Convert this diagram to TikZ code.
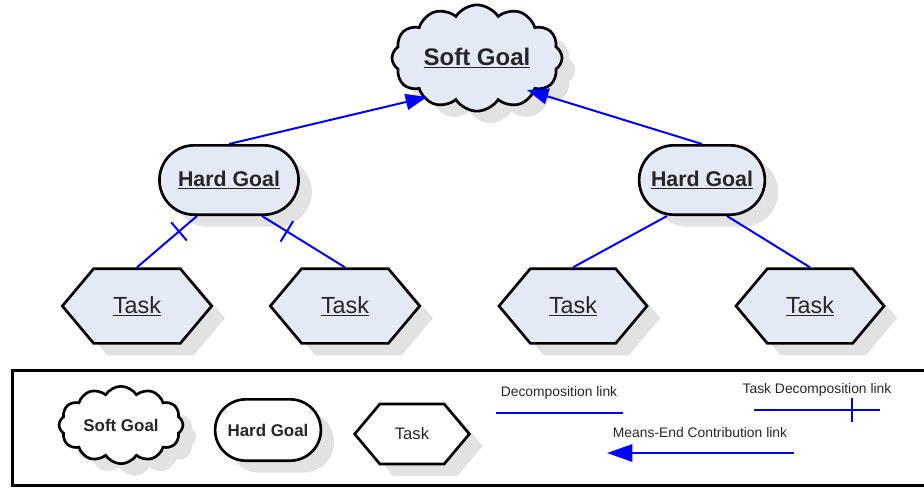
\documentclass[tikz,border=0pt]{standalone}
\usepackage{fontspec}
\setmainfont{Liberation Sans}
\usetikzlibrary{shapes.symbols,shapes.misc,shadows,arrows.meta,calc,decorations.markings}
\definecolor{goalfill}{RGB}{227,233,245}
\definecolor{linkblue}{RGB}{0,0,255}
\definecolor{shadowgray}{RGB}{226,226,226}
\begin{document}
\begin{tikzpicture}[x=0.75pt,y=-0.75pt,
  every node/.style={text=black!85},
  shade/.style={drop shadow={shadow xshift=10pt,shadow yshift=-9pt,fill=shadowgray,opacity=1}},
  softgoal/.style={cloud,cloud puffs=12,cloud puff arc=115,aspect=1.9,draw,line width=2pt,fill=goalfill,shade},
  hardgoal/.style={rounded rectangle,draw,line width=2pt,fill=goalfill,shade},
  task/.style={signal,signal to=west and east,signal pointer angle=100,draw,line width=2pt,fill=goalfill,shade},
  dlink/.style={draw=linkblue,line width=1.5pt},
  tdlink/.style={dlink,postaction={decorate},decoration={markings,
    mark=at position #1 with {\draw[linkblue,line width=1.5pt] (0,-9pt) -- (0,9pt);}}},
  tdlink/.default=0.3,
  melink/.style={dlink,-{Triangle[length=16pt,width=12pt]}},
  linktext/.style={font=\fontsize{10.4}{12}\selectfont}
]
  \useasboundingbox (0,0) rectangle (924,487);
  % soft goal on top
  \node[softgoal,minimum width=111pt,minimum height=61pt,font=\fontsize{18}{20}\selectfont\bfseries] (sg) at (477,58) {\underline{Soft Goal}};
  % hard goals
  \node[hardgoal,minimum width=111pt,minimum height=52pt,font=\fontsize{16}{18}\selectfont\bfseries] (hgL) at (229,180) {\underline{Hard Goal}};
  \node[hardgoal,minimum width=101pt,minimum height=52pt,font=\fontsize{16}{18}\selectfont\bfseries] (hgR) at (702,180) {\underline{Hard Goal}};
  % tasks
  \node[task,minimum width=112pt,minimum height=56pt,font=\fontsize{17.5}{20}\selectfont] (tL1) at (137,306) {\underline{Task}};
  \node[task,minimum width=112pt,minimum height=56pt,font=\fontsize{17.5}{20}\selectfont] (tL2) at (345,306) {\underline{Task}};
  \node[task,minimum width=111pt,minimum height=56pt,font=\fontsize{17.5}{20}\selectfont] (tR1) at (573,306) {\underline{Task}};
  \node[task,minimum width=111pt,minimum height=56pt,font=\fontsize{17.5}{20}\selectfont] (tR2) at (810,306) {\underline{Task}};
  % means-end links
  \draw[melink] (hgL.north) -- ($(sg.center)+(-50,39)$);
  \draw[melink] (hgR.north) -- ($(sg.center)+(50,32)$);
  % decomposition links
  \draw[tdlink] ($(hgL.south)+(-32,0)$) -- (tL1.north);
  \draw[tdlink] ($(hgL.south)+(33,0)$) -- (tL2.north);
  \draw[dlink] ($(hgR.south)+(-35,0)$) -- (tR1.north);
  \draw[dlink] ($(hgR.south)+(25,0)$) -- (tR2.north);
  % legend
  \draw[line width=2.25pt] (12,370) rectangle (940,485);
  \node[softgoal,fill=white,minimum width=85pt,minimum height=51pt,font=\fontsize{12.7}{14}\selectfont\bfseries] (lsg) at (121,425) {Soft Goal};
  \node[hardgoal,fill=white,minimum width=86pt,minimum height=46pt,font=\fontsize{12.7}{14}\selectfont\bfseries] (lhg) at (268,430) {Hard Goal};
  \node[task,fill=white,minimum width=86pt,minimum height=45pt,font=\fontsize{12.5}{14}\selectfont] (lt) at (412,434) {Task};
  \node[linktext] (ldl) at (559,393) {Decomposition link};
  \node[linktext] (ltd) at (817,390) {Task Decomposition link};
  \node[linktext] (lme) at (700,433) {Means-End Contribution link};
  \coordinate (dl1) at (496,413);
  \coordinate (dl2) at (623,413);
  \coordinate (td1) at (754,410);
  \coordinate (td2) at (880,410);
  \coordinate (me1) at (794,453);
  \coordinate (me2) at (607,453);
  \draw[dlink] (dl1) -- (dl2);
  \draw[tdlink=0.78] (td1) -- (td2);
  \draw[dlink,-{Triangle[length=19pt,width=13pt]}] (me1) -- (me2);
\end{tikzpicture}
\end{document}
